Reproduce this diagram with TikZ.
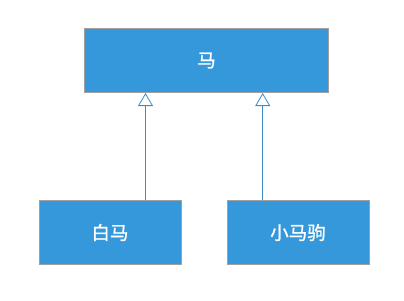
\documentclass[tikz,border=0pt]{standalone}
\usepackage{fontspec}
\newfontfamily\cjk[FakeBold=1.2]{Noto Sans CJK SC}
\usetikzlibrary{arrows.meta}
\definecolor{boxblue}{RGB}{53,152,219}
\definecolor{boxedge}{RGB}{160,160,160}
\definecolor{linkblue}{RGB}{60,140,200}
\begin{document}
\begin{tikzpicture}[x=1pt,y=-1pt,
  cls/.style={draw=boxedge,line width=1pt,fill=boxblue,text=white,font=\cjk\fontsize{18.5}{18.5}\selectfont,inner sep=0pt},
  inherit/.style={draw=linkblue,line width=0.8pt,-{Triangle[open,width=15pt,length=13pt,line width=0.8pt]}}]
\useasboundingbox (0,0) rectangle (404,300);
\node[cls,minimum width=244pt,minimum height=64pt] (horse) at (206.5,60.5) {马};
\node[cls,minimum width=142pt,minimum height=64pt] (white) at (110,232.5) {白马};
\node[cls,minimum width=142pt,minimum height=64pt] (pony) at (298,232.5) {小马驹};
\draw[inherit] (white.north -| 145.5,0) -- (horse.south -| 145.5,0);
\draw[inherit] (pony.north -| 262.7,0) -- (horse.south -| 262.7,0);
\end{tikzpicture}
\end{document}
